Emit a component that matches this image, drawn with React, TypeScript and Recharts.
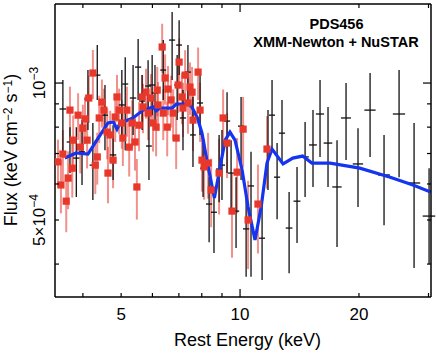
import { ComposedChart, Scatter, Line, XAxis, YAxis, ErrorBar } from 'recharts';

// axis ranges, flux in units of 1e-4 keV cm^-2 s^-1
const X_DOMAIN: [number, number] = [3.4, 30.44];
const Y_DOMAIN: [number, number] = [3.386, 14.92];

const X_TICKS = [4, 5, 6, 7, 8, 9, 10, 20, 30];
const X_MAJOR = [10];
const X_TICK_LABELS: Record<number, string> = { 5: '5', 10: '10', 20: '20' };
const Y_TICKS = [4, 5, 6, 7, 8, 9, 10];
const Y_MAJOR = [10];

// best-fit model (blue)
const modelE = [3.60, 3.85, 4.12, 4.34, 4.63, 4.78, 4.88, 4.97, 5.36, 5.68, 6.04, 6.13, 6.27, 6.73, 6.89, 7.39, 7.55, 7.80, 8.01, 8.24, 8.61, 8.90, 9.17, 9.43, 9.71, 10.12, 10.48, 10.91, 11.31, 11.70, 12.05, 12.85, 13.6, 14.4, 15.2, 16.9, 20.1, 24.0, 27.4, 30.4];
const modelF = [6.84, 7.02, 6.98, 7.49, 8.17, 8.21, 7.92, 8.17, 8.38, 8.72, 8.86, 8.68, 8.81, 8.81, 8.99, 8.99, 8.86, 8.38, 7.76, 6.77, 5.59, 6.54, 7.49, 7.80, 7.49, 6.44, 5.34, 4.52, 5.34, 6.67, 7.16, 6.64, 6.84, 6.91, 6.67, 6.67, 6.50, 6.21, 5.97, 5.76];

// XMM-Newton (red squares)
const xmmE = [3.46, 3.52, 3.56, 3.63, 3.67, 3.71, 3.76, 3.78, 3.89, 3.94, 4.00, 4.05, 4.10, 4.14, 4.24, 4.30, 4.35, 4.40, 4.47, 4.52, 4.61, 4.63, 4.69, 4.77, 4.83, 4.88, 4.94, 5.02, 5.05, 5.17, 5.24, 5.33, 5.42, 5.48, 5.55, 5.65, 5.68, 5.78, 5.85, 5.95, 6.02, 6.13, 6.17, 6.20, 6.35, 6.39, 6.46, 6.54, 6.57, 6.69, 6.77, 6.89, 6.97, 7.01, 7.13, 7.17, 7.26, 7.38, 7.47, 7.56, 7.60, 7.83, 7.92, 8.01, 8.11, 8.30, 8.45, 8.85, 9.06, 9.27, 9.54, 9.83, 10.18, 10.48, 11.10, 11.70];
const xmmF = [6.71, 5.97, 6.98, 5.50, 6.18, 8.72, 6.50, 7.49, 8.50, 7.23, 7.96, 8.34, 7.49, 9.27, 10.52, 6.60, 6.88, 8.38, 9.08, 8.72, 7.80, 6.34, 7.69, 6.77, 8.42, 9.32, 8.72, 8.17, 7.57, 8.72, 7.23, 8.17, 7.42, 5.91, 8.08, 9.32, 8.86, 9.55, 8.59, 9.27, 8.17, 8.00, 9.65, 8.95, 12.0, 8.59, 10.26, 8.00, 9.70, 9.18, 8.59, 7.57, 9.90, 11.12, 9.32, 8.81, 10.41, 9.04, 9.80, 9.55, 8.29, 10.57, 8.72, 6.77, 6.54, 6.67, 5.82, 6.34, 8.38, 7.38, 5.23, 6.37, 7.92, 5.00, 5.42, 7.16];
const xmmErr = [0.8, 0.8, 0.9, 0.8, 0.9, 1.1, 0.9, 1.0, 1.0, 0.9, 1.0, 1.0, 1.0, 1.1, 1.3, 0.9, 0.9, 1.0, 1.1, 1.0, 1.0, 0.9, 1.0, 0.9, 1.0, 1.1, 1.0, 1.0, 1.0, 1.1, 1.0, 1.0, 1.0, 0.9, 1.0, 1.1, 1.1, 1.2, 1.1, 1.2, 1.1, 1.1, 1.2, 1.1, 1.5, 1.1, 1.3, 1.1, 1.2, 1.2, 1.1, 1.1, 1.3, 1.4, 1.2, 1.2, 1.4, 1.3, 1.3, 1.3, 1.2, 1.4, 1.3, 1.0, 1.0, 1.1, 1.0, 1.2, 1.3, 1.2, 1.1, 1.2, 1.4, 1.1, 1.2, 1.3];

// NuSTAR (black crosses)
const nuE = [3.56, 3.71, 3.85, 3.98, 4.12, 4.24, 4.35, 4.55, 4.77, 5.02, 5.12, 5.36, 5.52, 5.65, 5.85, 5.88, 5.99, 6.09, 6.39, 6.73, 6.93, 7.01, 7.17, 7.38, 7.60, 7.92, 8.06, 8.35, 8.59, 8.85, 9.00, 9.27, 9.49, 9.77, 10.06, 10.36, 10.66, 11.37, 11.77, 12.05, 12.41, 12.77, 13.31, 13.94, 14.61, 15.30, 15.94, 16.70, 17.60, 18.55, 19.89, 21.34, 23.15, 25.27, 27.58, 30.1];
const nuDE = [0.07, 0.07, 0.07, 0.07, 0.08, 0.08, 0.08, 0.08, 0.09, 0.09, 0.09, 0.1, 0.1, 0.1, 0.1, 0.1, 0.11, 0.11, 0.11, 0.12, 0.12, 0.12, 0.13, 0.13, 0.13, 0.14, 0.14, 0.15, 0.15, 0.16, 0.16, 0.17, 0.17, 0.18, 0.18, 0.19, 0.19, 0.2, 0.2, 0.21, 0.22, 0.23, 0.26, 0.28, 0.32, 0.35, 0.38, 0.42, 0.48, 0.54, 0.6, 0.7, 0.8, 0.9, 1.0, 1.1];
const nuF = [8.77, 7.42, 6.84, 7.06, 9.22, 6.60, 10.41, 8.50, 6.95, 8.95, 9.95, 9.27, 10.84, 9.13, 9.85, 7.27, 9.90, 9.51, 10.68, 12.43, 9.90, 12.12, 8.38, 10.57, 7.69, 9.04, 6.50, 5.42, 5.20, 6.47, 6.60, 8.25, 6.34, 5.23, 8.04, 4.78, 5.94, 4.56, 7.12, 8.50, 6.21, 7.76, 4.80, 5.50, 6.88, 7.31, 8.55, 7.38, 5.91, 8.38, 6.64, 8.72, 6.28, 8.55, 6.03, 5.10];
const nuLo = [6.95, 6.34, 5.62, 5.97, 7.88, 5.53, 9.18, 7.12, 6.12, 7.49, 7.12, 7.69, 9.18, 7.88, 8.50, 6.12, 8.50, 8.08, 9.18, 10.15, 8.29, 10.41, 7.12, 8.95, 6.54, 7.69, 5.62, 4.47, 4.23, 5.47, 5.53, 6.34, 5.18, 4.34, 6.12, 3.75, 3.75, 3.69, 5.82, 7.12, 5.02, 6.67, 3.82, 4.45, 5.62, 5.91, 6.88, 5.91, 4.36, 6.77, 5.34, 6.88, 4.87, 6.21, 3.92, 4.0];
const nuHi = [10.15, 8.00, 8.00, 8.29, 10.68, 8.17, 12.12, 9.90, 8.08, 10.68, 11.40, 10.95, 12.49, 10.41, 11.23, 8.59, 11.52, 10.95, 12.43, 14.32, 11.52, 13.75, 9.65, 12.12, 9.32, 10.41, 7.49, 6.21, 5.91, 7.69, 7.88, 9.55, 7.49, 6.21, 9.32, 5.73, 7.06, 5.53, 8.72, 10.15, 7.38, 9.18, 5.76, 6.54, 8.21, 8.72, 10.15, 8.86, 7.49, 10.0, 7.96, 10.52, 7.69, 10.68, 8.17, 6.5];

const modelData = modelE.map((e, i) => ({ e, f: modelF[i] }));
const xmmData = xmmE.map((e, i) => ({ e, f: xmmF[i], ey: xmmErr[i] }));
const nuData = nuE.map((e, i) => ({
    e,
    f: nuF[i],
    ex: nuDE[i],
    ey: [nuF[i] - nuLo[i], nuHi[i] - nuF[i]],
}));

const FONT = 'Liberation Sans, Arial, Helvetica, sans-serif';
const AXIS_LINE = { stroke: '#000', strokeWidth: 1.5 };
const TICK_W = 1.2;

const BottomTick = (props: any) => {
    const { x, y, payload } = props;
    const len = X_MAJOR.includes(payload.value) ? 8 : 4;
    const label = X_TICK_LABELS[payload.value];
    return (
        <g>
            <line x1={x} y1={y} x2={x} y2={y - len} stroke="#000" strokeWidth={TICK_W} />
            {label && (
                <text x={x} y={y + 23} textAnchor="middle" fontSize={17} fontFamily={FONT} fill="#000">
                    {label}
                </text>
            )}
        </g>
    );
};

const TopTick = (props: any) => {
    const { x, y, payload } = props;
    const len = X_MAJOR.includes(payload.value) ? 8 : 4;
    return <line x1={x} y1={y} x2={x} y2={y + len} stroke="#000" strokeWidth={TICK_W} />;
};

const LeftTick = (props: any) => {
    const { x, y, payload } = props;
    const len = Y_MAJOR.includes(payload.value) ? 8 : 4;
    let label = null;
    if (payload.value === 10) {
        label = (
            <text transform={`translate(${x - 10}, ${y}) rotate(-90)`} textAnchor="middle" fontSize={17} fontFamily={FONT} fill="#000">
                10<tspan dy={-7} fontSize={12}>−3</tspan>
            </text>
        );
    } else if (payload.value === 5) {
        label = (
            <text transform={`translate(${x - 10}, ${y}) rotate(-90)`} textAnchor="middle" fontSize={17} fontFamily={FONT} fill="#000">
                5×10<tspan dy={-7} fontSize={12}>−4</tspan>
            </text>
        );
    }
    return (
        <g>
            <line x1={x} y1={y} x2={x + len} y2={y} stroke="#000" strokeWidth={TICK_W} />
            {label}
        </g>
    );
};

const RightTick = (props: any) => {
    const { x, y, payload } = props;
    const len = Y_MAJOR.includes(payload.value) ? 8 : 4;
    return <line x1={x} y1={y} x2={x - len} y2={y} stroke="#000" strokeWidth={TICK_W} />;
};

const RedSquare = (props: any) => {
    const { cx, cy } = props;
    if (cx == null || cy == null) return <g />;
    return <rect x={cx - 3.6} y={cy - 3.6} width={7.2} height={7.2} fill="#e8372b" />;
};

const NoMark = () => <g />;

export default function App() {
    return (
        <div style={{ position: 'absolute', left: 0, top: 0, width: 436, height: 354, background: '#fff' }}>
            <ComposedChart width={436} height={354} margin={{ top: 0, right: 0, bottom: 0, left: 0 }}>
                <XAxis
                    xAxisId="b"
                    dataKey="e"
                    type="number"
                    scale="log"
                    domain={X_DOMAIN}
                    allowDataOverflow
                    ticks={X_TICKS}
                    interval={0}
                    tickSize={0}
                    tickMargin={0}
                    tickLine={false}
                    axisLine={AXIS_LINE}
                    tick={BottomTick}
                    height={57}
                />
                <XAxis
                    xAxisId="t"
                    orientation="top"
                    dataKey="e"
                    type="number"
                    scale="log"
                    domain={X_DOMAIN}
                    allowDataOverflow
                    ticks={X_TICKS}
                    interval={0}
                    tickSize={0}
                    tickMargin={0}
                    tickLine={false}
                    axisLine={AXIS_LINE}
                    tick={TopTick}
                    height={4}
                />
                <YAxis
                    yAxisId="l"
                    dataKey="f"
                    type="number"
                    scale="log"
                    domain={Y_DOMAIN}
                    allowDataOverflow
                    ticks={Y_TICKS}
                    interval={0}
                    tickSize={0}
                    tickMargin={0}
                    tickLine={false}
                    axisLine={AXIS_LINE}
                    tick={LeftTick}
                    width={55}
                />
                <YAxis
                    yAxisId="r"
                    orientation="right"
                    dataKey="f"
                    type="number"
                    scale="log"
                    domain={Y_DOMAIN}
                    allowDataOverflow
                    ticks={Y_TICKS}
                    interval={0}
                    tickSize={0}
                    tickMargin={0}
                    tickLine={false}
                    axisLine={AXIS_LINE}
                    tick={RightTick}
                    width={5}
                />
                <Scatter xAxisId="b" yAxisId="l" data={xmmData} shape={RedSquare} isAnimationActive={false}>
                    <ErrorBar
                        dataKey="ey"
                        direction="y"
                        width={0}
                        stroke="#e8372b"
                        strokeOpacity={0.55}
                        strokeWidth={2}
                        isAnimationActive={false}
                    />
                </Scatter>
                <Scatter xAxisId="b" yAxisId="l" data={nuData} shape={NoMark} isAnimationActive={false}>
                    <ErrorBar dataKey="ex" direction="x" width={0} stroke="#111" strokeWidth={1.3} isAnimationActive={false} />
                    <ErrorBar dataKey="ey" direction="y" width={0} stroke="#111" strokeWidth={1.3} isAnimationActive={false} />
                </Scatter>
                <Line
                    xAxisId="b"
                    yAxisId="l"
                    data={modelData}
                    dataKey="f"
                    type="linear"
                    stroke="#1434f0"
                    strokeWidth={3.2}
                    dot={false}
                    activeDot={false}
                    isAnimationActive={false}
                />
                <Line
                    xAxisId="t"
                    yAxisId="r"
                    data={modelData}
                    dataKey="f"
                    stroke="none"
                    dot={false}
                    activeDot={false}
                    isAnimationActive={false}
                />
            </ComposedChart>
            <svg
                width={436}
                height={354}
                style={{ position: 'absolute', left: 0, top: 0, pointerEvents: 'none' }}
            >
                <text x={336.5} y={29.3} textAnchor="middle" fontSize={14.5} fontWeight="bold" fontFamily={FONT} fill="#000">
                    PDS456
                </text>
                <text x={336} y={46.5} textAnchor="middle" fontSize={14.5} fontWeight="bold" fontFamily={FONT} fill="#000">
                    XMM-Newton + NuSTAR
                </text>
                <text x={247.5} y={346} textAnchor="middle" fontSize={18} fontFamily={FONT} fill="#000">
                    Rest Energy (keV)
                </text>
                <text transform="translate(17, 150) rotate(-90)" textAnchor="middle" fontSize={18} fontFamily={FONT} fill="#000">
                    Flux (keV cm<tspan dy={-5} fontSize={12}>−2</tspan>
                    <tspan dy={5}> s</tspan>
                    <tspan dy={-5} fontSize={12}>−1</tspan>
                    <tspan dy={5}>)</tspan>
                </text>
            </svg>
        </div>
    );
}
